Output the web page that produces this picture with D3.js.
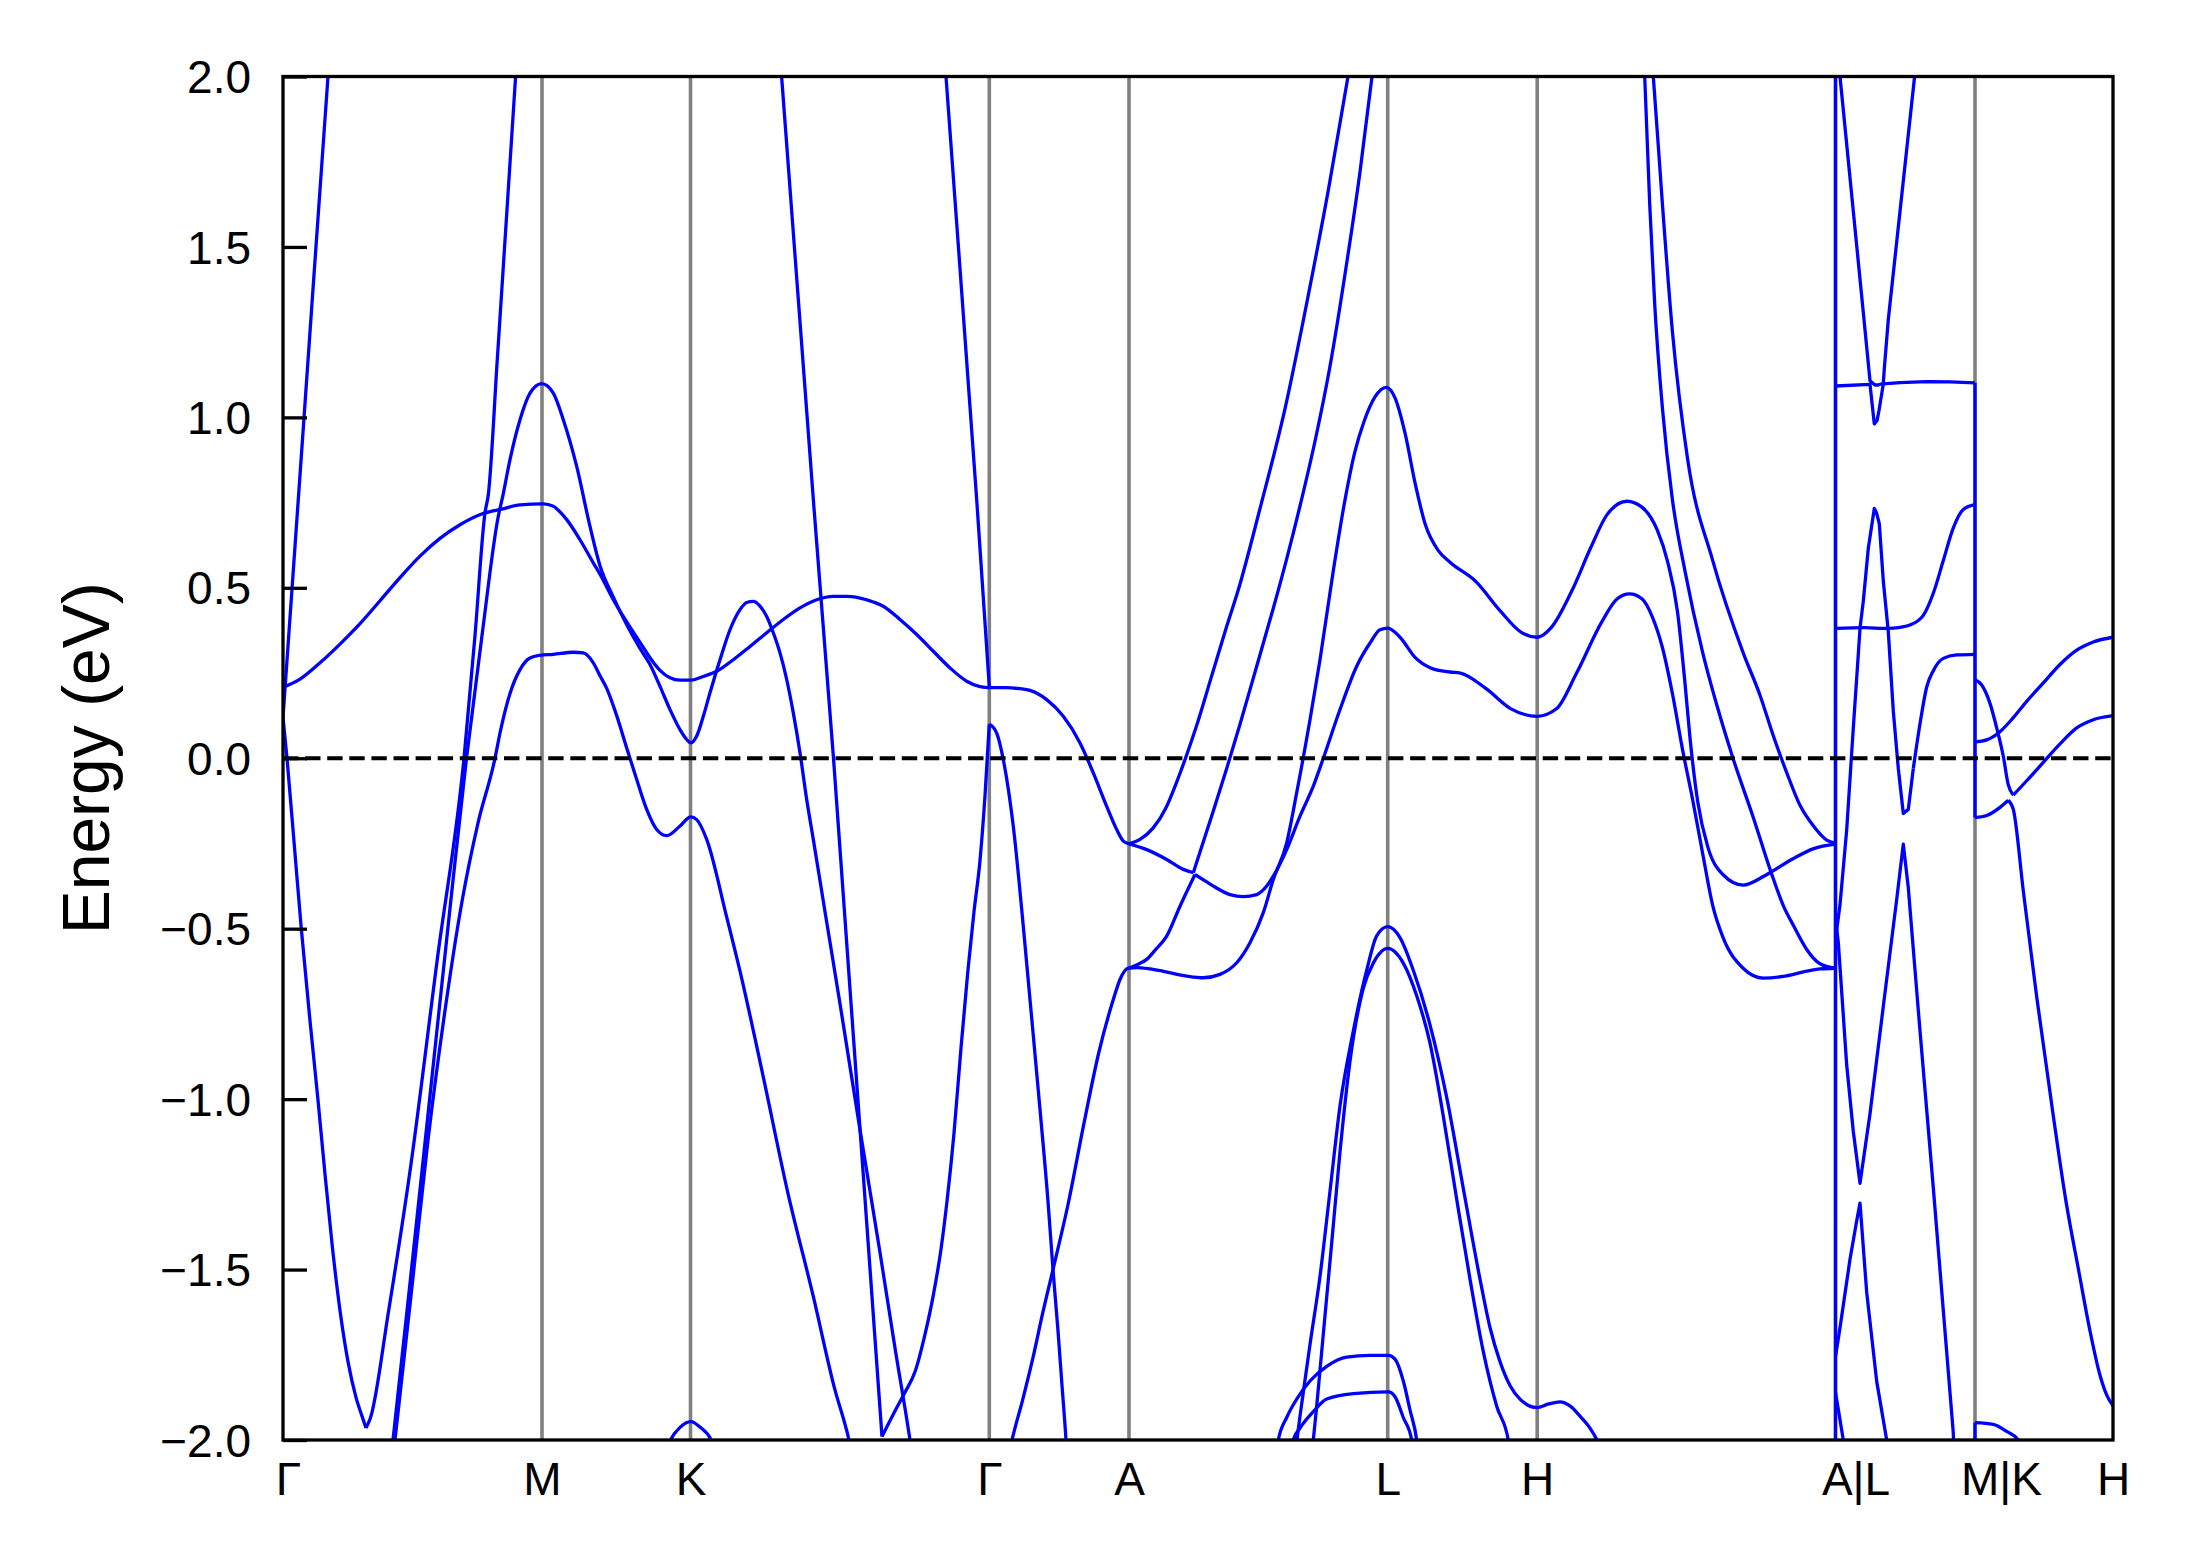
<!DOCTYPE html>
<html>
<head>
<meta charset="utf-8">
<script src="https://cdn.jsdelivr.net/npm/d3@7"></script>
<style>
html,body{margin:0;padding:0;background:#fff;}
svg{display:block;}
text{font-family:"Liberation Sans",Arial,Helvetica,sans-serif;fill:#000;}
</style>
</head>
<body>
<div id="chart"></div>
<script>
// ---------- DATA (k = path distance, arbitrary units; E in eV) ----------
const kTicks = [0, 259, 407.5, 706.3, 846, 1104.7, 1254.2, 1552.5, 1692, 1830];
const kLabels = ["Γ", "M", "K", "Γ", "A", "L", "H", "A|L", "M|K", "H"];
const kLabelShift = [5, 0, 0, 0, 0, 0, 0, 20, 26, 0];
const kDividers = [259, 407.5, 706.3, 846, 1104.7, 1254.2, 1552.5, 1692];
const yTicks = [-2, -1.5, -1, -0.5, 0, 0.5, 1, 1.5, 2];
const eRange = [-2, 2];
const kRange = [0, 1830];

// smooth band pieces
const gmSteep = [[0,0.12],[22,1.04],[45,2.0],[48,2.12]];
const gmVLeft = [[0,0.12],[4,0.0],[12,-0.28],[18.3,-0.5],[27,-0.77],[34.9,-1.0],[42,-1.22],[49.6,-1.44],[57,-1.62],[65,-1.77],[73,-1.875],[79,-1.93],[83,-1.965]];
const gmVRight = [[83,-1.965],[87.5,-1.935],[105.4,-1.625],[127.7,-1.197],[154.5,-0.585],[181,0.0],[192,0.36],[202,0.72],[205.3,0.773],[214.3,1.17],[232.6,2.0],[235,2.11]];
const gmQ = [[108.5,-2.04],[110,-2.0],[127,-1.54],[147,-0.99],[167,-0.44],[183.5,0.0],[199,0.36],[215.3,0.71],[219.7,0.768],[227,0.876],[237,0.993],[247,1.071],[258.7,1.099],[270.3,1.071],[280.3,0.993],[293.7,0.856],[307,0.68],[317,0.565],[330,0.475],[344,0.39],[357,0.322],[367,0.275],[377,0.211],[387,0.143],[397,0.084],[403.7,0.055],[407.7,0.045],[413.7,0.065],[420.3,0.123],[427,0.192],[437,0.289],[447,0.377],[457,0.436],[463.7,0.457],[470.3,0.46],[477,0.446],[483.7,0.416],[490.3,0.368],[497,0.309],[503.7,0.231],[510.3,0.133],[517,0.016],[523.7,-0.121],[530.3,-0.238],[542,-0.45],[557,-0.72],[577,-1.09],[597,-1.45],[612,-1.73],[627,-2.0],[629,-2.04]];
const gmR = [[110.5,-2.04],[112,-2.0],[129,-1.55],[145,-1.12],[162,-0.74],[179,-0.42],[195,-0.19],[212,0.0],[217,0.074],[227,0.19],[237,0.26],[247,0.294],[257,0.302],[270.3,0.305],[290.3,0.311],[300.3,0.309],[310.3,0.28],[317,0.242],[323.7,0.205],[333.7,0.125],[343.7,0.03],[353.7,-0.062],[363.7,-0.15],[373.7,-0.209],[383.7,-0.227],[397,-0.199],[407.7,-0.172],[413.7,-0.18],[423.7,-0.238],[443.5,-0.464],[458.8,-0.647],[479.2,-0.92],[504.8,-1.274],[530.3,-1.579],[550.7,-1.839],[566,-2.0],[569,-2.04]];
const flatBand = [[0,0.208],[17,0.232],[37,0.28],[57,0.335],[77,0.395],[97,0.462],[117,0.53],[137,0.593],[157,0.645],[177,0.685],[200,0.718],[218.7,0.731],[237,0.743],[260.3,0.746],[270.3,0.739],[283.7,0.70],[297,0.641],[310.3,0.573],[317,0.54],[330.3,0.465],[343.7,0.4],[357,0.34],[367,0.295],[377,0.258],[387,0.236],[397,0.229],[407.7,0.229],[420.3,0.24],[433.7,0.255],[450.3,0.289],[467,0.328],[483.7,0.368],[500.3,0.407],[517,0.441],[533.7,0.465],[550.3,0.475],[563.7,0.475],[583.7,0.465],[600.3,0.446],[617,0.407],[633.7,0.363],[650.3,0.314],[667,0.265],[683.7,0.226],[697,0.21],[706.3,0.207],[722,0.207],[737,0.204],[747,0.199],[763.7,0.172],[780.3,0.123],[797,0.045],[810.3,-0.043],[823.7,-0.141],[833.7,-0.209],[840.3,-0.243],[846,-0.251]];
const kgS1 = [[496.5,2.08],[498.6,2.0],[530.3,0.76],[550.5,0.0],[599,-1.99]];
const kgS2 = [[661.8,2.05],[663,2.0],[693.7,0.759],[706.3,0.21]];
const kgCLeft = [[599,-1.99],[612,-1.915],[622,-1.86],[632,-1.80],[642,-1.69],[650,-1.58],[658,-1.44],[664,-1.30],[671,-1.10],[678,-0.85],[685,-0.62],[691,-0.45],[697,-0.30],[702,-0.11],[706.3,0.1]];
const kgCRight = [[706.3,0.1],[713.7,0.074],[720.3,-0.004],[730.3,-0.2],[740.3,-0.493],[747,-0.708],[757,-1.03],[765,-1.3],[770,-1.5],[775,-1.68],[779,-1.84],[783,-2.0],[784,-2.05]];
const kBump = [[383,-2.03],[387.4,-2.0],[397,-1.963],[407.8,-1.946],[417,-1.962],[428.2,-2.0],[431,-2.02]];
const gaRise = [[726,-2.04],[729,-2.0],[739.4,-1.885],[749.7,-1.762],[759.9,-1.625],[770,-1.50],[785.4,-1.304],[800.7,-1.075],[816,-0.861],[830.3,-0.708],[837,-0.649],[843.7,-0.618],[846,-0.616]];
const alLowA = [[846,-0.616],[853,-0.607],[863.7,-0.59],[873,-0.56],[883.7,-0.522],[897,-0.434],[912,-0.341]];
const alLowA2 = [[912,-0.341],[920,-0.356],[930.3,-0.375],[947,-0.40],[960.3,-0.406],[973.7,-0.40],[983.7,-0.375],[990.3,-0.346],[1003.7,-0.268],[1017,-0.17],[1030.3,-0.082],[1040.3,0.0],[1057,0.143],[1073.7,0.27],[1087,0.338],[1097,0.377],[1104.8,0.382],[1117,0.355],[1132.3,0.295],[1147.6,0.265],[1167,0.253],[1177.5,0.25],[1202.8,0.205],[1228,0.145],[1254.2,0.123],[1273.4,0.145],[1293.6,0.25],[1318.8,0.4],[1334,0.467],[1346.6,0.482],[1359.2,0.467],[1369.3,0.415],[1379.4,0.325],[1389.4,0.19],[1399.5,0.026],[1409.6,-0.121],[1419.7,-0.28],[1429.8,-0.433],[1439.9,-0.525],[1460.1,-0.616],[1480.3,-0.645],[1500,-0.64],[1520.6,-0.627],[1537,-0.618],[1552.5,-0.616]];
const alFlatA = [[846,-0.616],[853.7,-0.614],[867,-0.618],[880.3,-0.625],[903.7,-0.639],[920.3,-0.644],[937,-0.634],[953.7,-0.60],[967,-0.541],[980.3,-0.453],[990.3,-0.356],[1003.7,-0.248],[1013.7,-0.101],[1027,0.113],[1037,0.289],[1050.3,0.55],[1060.9,0.74],[1072,0.9],[1081.3,0.99],[1092,1.06],[1103.2,1.088],[1111.9,1.058],[1122.1,0.953],[1132.3,0.804],[1142.5,0.684],[1155.3,0.609],[1167,0.575],[1192.7,0.519],[1217.9,0.43],[1238,0.37],[1254.2,0.355],[1268.4,0.384],[1288.5,0.489],[1308.7,0.624],[1323.9,0.714],[1344,0.754],[1359.2,0.736],[1374.3,0.669],[1384.4,0.579],[1394.5,0.43],[1402,0.22],[1407,0.06],[1414.7,-0.127],[1424.8,-0.26],[1439.9,-0.341],[1460.1,-0.372],[1480.3,-0.347],[1488,-0.334],[1510,-0.295],[1530.7,-0.265],[1552.5,-0.252]];
const gaAUpper = [[846,-0.251],[857,-0.238],[870,-0.205],[883,-0.145],[893,-0.075],[902.5,0.0],[913,0.09],[928,0.235],[943.7,0.387],[956.3,0.504],[976.7,0.729],[1002.2,1.028],[1025.2,1.357],[1045.6,1.671],[1065,2.0],[1068,2.05]];
const alABand = [[846,-0.251],[863.7,-0.268],[883.7,-0.297],[900.3,-0.326],[910.3,-0.336]];
const alABand2 = [[910.3,-0.336],[917,-0.275],[930.3,-0.155],[943.7,-0.03],[957,0.1],[973.7,0.27],[990.3,0.44],[1003.7,0.585],[1017,0.74],[1032,0.93],[1047,1.15],[1062,1.42],[1077,1.72],[1089,2.0],[1091,2.05]];
const lvUpper = [[1012.5,-2.04],[1014,-2.0],[1020.3,-1.86],[1027,-1.72],[1037,-1.52],[1047,-1.27],[1057,-1.02],[1070.3,-0.80],[1083.7,-0.622],[1093.7,-0.521],[1104.7,-0.494],[1117,-0.526],[1130.3,-0.622],[1147,-0.782],[1163.7,-0.995],[1180.3,-1.262],[1197,-1.528],[1207,-1.67],[1217,-1.77],[1227,-1.84],[1237,-1.88],[1254,-1.905],[1265,-1.895],[1277,-1.888],[1287,-1.9],[1297,-1.93],[1307,-1.965],[1314,-2.0],[1317,-2.02]];
const lvLower = [[1029,-2.04],[1030.3,-2.0],[1033.7,-1.901],[1037,-1.795],[1042,-1.635],[1048.7,-1.422],[1057,-1.155],[1067,-0.889],[1080.3,-0.675],[1090.3,-0.601],[1104.7,-0.558],[1120.3,-0.601],[1133.7,-0.697],[1147,-0.836],[1160.3,-1.05],[1173.7,-1.294],[1187,-1.528],[1200.3,-1.741],[1213.7,-1.901],[1225.3,-2.0],[1227,-2.03]];
const lfUpper = [[993,-2.04],[995.3,-2.0],[1003.7,-1.934],[1013.7,-1.88],[1027,-1.827],[1043.7,-1.784],[1063.7,-1.757],[1087,-1.752],[1105.3,-1.752],[1112,-1.763],[1120.3,-1.827],[1127,-1.912],[1133.7,-2.0],[1135,-2.03]];
const lfLower = [[1008,-2.04],[1010.3,-2.0],[1017,-1.965],[1030.3,-1.917],[1043.7,-1.88],[1070.3,-1.864],[1105.3,-1.859],[1112,-1.873],[1120.3,-1.934],[1128.7,-2.0],[1130,-2.03]];
const haT1 = [[1361.2,2.04],[1361.7,2.0],[1366.7,1.626],[1371.8,1.327],[1379.4,1.028],[1389.4,0.759],[1402,0.549],[1419.7,0.31],[1434.9,0.145],[1450,0.0],[1470.2,-0.173],[1488,-0.334],[1500.4,-0.433],[1510.3,-0.49],[1523.7,-0.561],[1537,-0.603],[1552.5,-0.616]];
const haT2 = [[1369.2,2.04],[1370.3,2.0],[1379.4,1.626],[1389.4,1.252],[1404.6,0.878],[1429.8,0.579],[1460.1,0.31],[1477,0.185],[1490.3,0.066],[1503.7,-0.042],[1517,-0.138],[1530.3,-0.198],[1543.7,-0.24],[1552.5,-0.249]];
const almVRight = [[1630.3,-0.03],[1637,0.101],[1643.7,0.209],[1650.3,0.257],[1660.3,0.293],[1673.7,0.303],[1692,0.305]];
const almFlat038 = [[1552.5,0.381],[1582,0.383],[1602,0.381],[1610.3,0.382],[1627,0.391],[1640.3,0.419],[1650.3,0.484],[1660.3,0.58],[1670.3,0.676],[1680.3,0.73],[1692,0.744]];
const mkhA1 = [[1692,0.23],[1698.7,0.215],[1707,0.161],[1713.7,0.089],[1720.3,0.006],[1725.3,-0.078],[1730.3,-0.108]];
const mkhA2 = [[1730.3,-0.108],[1743.7,-0.066],[1760.3,-0.012],[1777,0.042],[1793.7,0.089],[1810.3,0.113],[1830,0.125]];
const mkhB = [[1692,0.048],[1703.7,0.054],[1717,0.078],[1730.3,0.119],[1743.7,0.167],[1760.3,0.221],[1777,0.275],[1793.7,0.317],[1810.3,0.341],[1830,0.355]];
const mkhC1 = [[1692,-0.174],[1703.7,-0.168],[1717,-0.144],[1725.3,-0.123]];
const mkhC2 = [[1725.3,-0.123],[1730.3,-0.15],[1740.3,-0.389],[1753.7,-0.70],[1770,-1.043],[1783,-1.3],[1796,-1.508],[1807,-1.68],[1817,-1.81],[1824,-1.87],[1830,-1.9]];
const mkhBottom = [[1692,-1.949],[1710.3,-1.954],[1723.7,-1.975],[1735.3,-2.0],[1739,-2.02]];

// piecewise-linear band pieces (coarse k-mesh segment, and path discontinuities)
const jumpAL = [[1552.5,-2.05],[1552.5,2.05]];
const jumpMK = [[1692,-0.174],[1692,1.101]];
const jumpMKlow = [[1692,-2.05],[1692,-1.949]];
const almUpperV = [[1555,2.08],[1557,2.0],[1581,1.287],[1587,1.107],[1592,1.095],[1595.3,1.095],[1600.3,1.10],[1601.3,1.143],[1605.3,1.287],[1631.6,2.0],[1633,2.04]];
const almFlat11 = [[1552.5,1.092],[1587,1.097],[1591.3,0.981],[1594,0.99],[1596,1.02],[1600.3,1.098],[1617,1.102],[1643.7,1.105],[1667,1.104],[1692,1.101]];
const almL1 = [[1552.5,-0.53],[1557,-0.43],[1563.7,-0.21],[1570.3,0.089],[1575.3,0.305],[1577,0.381],[1580.3,0.461],[1585.3,0.616],[1591.3,0.733],[1593.5,0.72],[1596.3,0.688],[1600.3,0.52],[1605.3,0.371],[1610.3,0.138],[1615.3,-0.03],[1620.3,-0.162],[1625.3,-0.15],[1630.3,-0.03]];
const almL2 = [[1552.5,-0.47],[1555.3,-0.54],[1563.7,-0.9],[1570.3,-1.095],[1577,-1.247],[1587,-1.043],[1600.3,-0.728],[1613.7,-0.414],[1620.3,-0.252],[1625.3,-0.38],[1637,-0.8],[1650.3,-1.26],[1660.3,-1.62],[1670.3,-1.98],[1671,-2.05]];
const almLowerL = [[1552.5,-1.755],[1557,-1.671],[1567,-1.47],[1573.7,-1.357],[1577,-1.305],[1583.7,-1.567],[1593.7,-1.828],[1603.7,-2.0],[1605,-2.04]];
const almBottom = [[1552.5,-1.86],[1560.3,-2.0],[1561,-2.03]];

const smoothPieces = [gmSteep,gmVLeft,gmVRight,gmQ,gmR,flatBand,kgS1,kgS2,kgCLeft,kgCRight,kBump,gaRise,alLowA,alLowA2,alFlatA,gaAUpper,alABand,alABand2,lvUpper,lvLower,lfUpper,lfLower,haT1,haT2,almVRight,almFlat038,mkhA1,mkhA2,mkhB,mkhC1,mkhC2,mkhBottom];
const linearPieces = [jumpAL,jumpMK,jumpMKlow,almUpperV,almFlat11,almL1,almL2,almLowerL,almBottom];

// ---------- LAYOUT ----------
const W = 2191, H = 1567;
const m = {left: 283, right: 2113, top: 76.5, bottom: 1440};
const svg = d3.select("#chart").append("svg").attr("width", W).attr("height", H);
svg.append("rect").attr("width", W).attr("height", H).attr("fill", "#fff");

const x = d3.scaleLinear().domain(kRange).range([m.left, m.right]);
const y = d3.scaleLinear().domain(eRange).range([m.bottom, m.top]);

svg.append("clipPath").attr("id", "clip").append("rect")
  .attr("x", m.left).attr("y", m.top).attr("width", m.right - m.left).attr("height", m.bottom - m.top);

const plot = svg.append("g").attr("clip-path", "url(#clip)");

// high-symmetry dividers
plot.selectAll("line.div").data(kDividers).join("line").attr("class", "div")
  .attr("x1", d => x(d)).attr("x2", d => x(d)).attr("y1", m.top).attr("y2", m.bottom)
  .attr("stroke", "#808080").attr("stroke-width", 3.6);

// bands
const lineSmooth = d3.line().x(d => x(d[0])).y(d => y(d[1])).curve(d3.curveMonotoneX);
const lineLinear = d3.line().x(d => x(d[0])).y(d => y(d[1])).curve(d3.curveLinear);
plot.selectAll("path.bs").data(smoothPieces).join("path").attr("class", "bs")
  .attr("d", lineSmooth).attr("fill", "none").attr("stroke", "#0000ff")
  .attr("stroke-width", 3.3).attr("stroke-linejoin", "round").attr("stroke-linecap", "butt");
plot.selectAll("path.bl").data(linearPieces).join("path").attr("class", "bl")
  .attr("d", lineLinear).attr("fill", "none").attr("stroke", "#0000ff")
  .attr("stroke-width", 3.3).attr("stroke-linejoin", "round").attr("stroke-linecap", "butt");

// Fermi level
plot.append("line").attr("x1", m.left).attr("x2", m.right).attr("y1", y(0)).attr("y2", y(0))
  .attr("stroke", "#000").attr("stroke-width", 3.8).attr("stroke-dasharray", "15.4 6.7");

// frame
svg.append("rect").attr("x", m.left).attr("y", m.top).attr("width", m.right - m.left).attr("height", m.bottom - m.top)
  .attr("fill", "none").attr("stroke", "#000").attr("stroke-width", 3.3);

// y axis
const fmt = v => (v < 0 ? "\u2212" : "") + Math.abs(v).toFixed(1);
const yAxis = d3.axisLeft(y).tickValues(yTicks).tickFormat(fmt).tickSizeInner(-24).tickSizeOuter(0).tickPadding(32);
const gy = svg.append("g").attr("transform", `translate(${m.left},0)`).call(yAxis);
gy.select(".domain").remove();
gy.selectAll(".tick line").attr("stroke", "#000").attr("stroke-width", 3.3);
gy.selectAll(".tick text").attr("font-size", 46).attr("font-family", "Liberation Sans, Arial, sans-serif").attr("dy", "0.35em").attr("fill", "#000");

// x axis labels
const xAxis = d3.axisBottom(x).tickValues(kTicks).tickFormat((d, i) => kLabels[i]).tickSize(0).tickPadding(22);
const gx = svg.append("g").attr("transform", `translate(0,${m.bottom})`).call(xAxis);
gx.select(".domain").remove();
gx.selectAll(".tick text").attr("font-size", 46).attr("font-family", "Liberation Sans, Arial, sans-serif")
  .attr("fill", "#000").attr("dx", (d, i) => kLabelShift[i]);

// y label
svg.append("text").attr("transform", `translate(108.5,${(m.top + m.bottom) / 2}) rotate(-90)`)
  .attr("text-anchor", "middle").attr("font-size", 66).text("Energy (eV)");
</script>
</body>
</html>
